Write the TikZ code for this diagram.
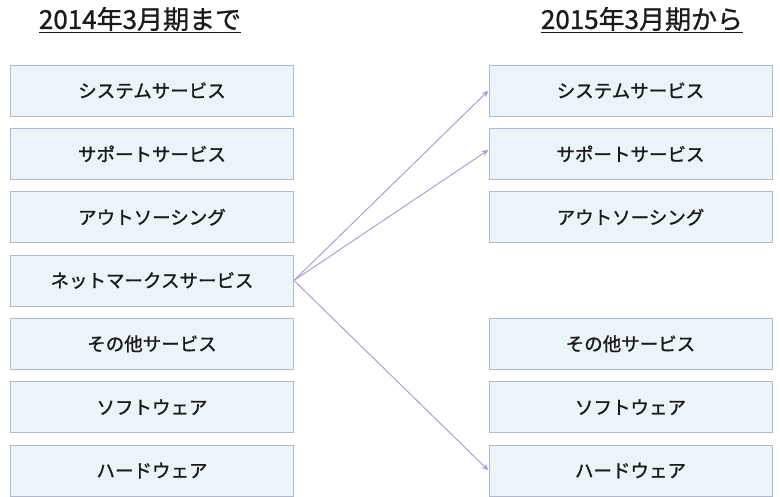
\documentclass[tikz,border=0pt]{standalone}
\usepackage{fontspec}
\setmainfont{Noto Sans CJK JP}
\newfontfamily\jpfont[FakeBold=1.2]{Noto Sans CJK JP}
\newfontfamily\jphead[FakeBold=1.0]{Noto Sans CJK JP}
\usetikzlibrary{arrows.meta}
\definecolor{boxfill}{HTML}{EBF4F9}
\definecolor{boxline}{HTML}{B4B8CC}
\definecolor{arrowcol}{HTML}{A3A3E0}
\definecolor{txt}{HTML}{1A1A1A}
\begin{document}
\begin{tikzpicture}[x=1pt,y=-1pt,
  itembox/.style={draw=boxline,fill=boxfill,line width=0.9pt,minimum width=283pt,minimum height=51pt,inner sep=0pt,font=\jpfont\fontsize{18.5}{20}\selectfont,text=txt},
  headtxt/.style={font=\jphead\fontsize{26}{28}\selectfont,text=txt,inner sep=0pt},
  link/.style={draw=arrowcol,line width=1pt,-{Stealth[length=7pt,width=6pt]}}]
\useasboundingbox (0,0) rectangle (780,497);
\node[headtxt] (h1) at (140,20) {\underline{2014年3月期まで}};
\node[headtxt] (h2) at (642,20) {\underline{2015年3月期から}};
\node[itembox] (L1) at (152,90.5) {システムサービス};
\node[itembox] (L2) at (152,153.8) {サポートサービス};
\node[itembox] (L3) at (152,217.2) {アウトソーシング};
\node[itembox] (L4) at (152,280.5) {ネットマークスサービス};
\node[itembox] (L5) at (152,343.8) {その他サービス};
\node[itembox] (L6) at (152,407.2) {ソフトウェア};
\node[itembox] (L7) at (152,470.5) {ハードウェア};
\node[itembox] (R1) at (630.5,90.5) {システムサービス};
\node[itembox] (R2) at (630.5,153.8) {サポートサービス};
\node[itembox] (R3) at (630.5,217.2) {アウトソーシング};
\node[itembox] (R5) at (630.5,343.8) {その他サービス};
\node[itembox] (R6) at (630.5,407.2) {ソフトウェア};
\node[itembox] (R7) at (630.5,470.5) {ハードウェア};
\draw[link] (L4.east) -- (R1.west);
\draw[link] (L4.east) -- ([yshift=4pt]R2.west);
\draw[link] (L4.east) -- (R7.west);
\end{tikzpicture}
\end{document}
